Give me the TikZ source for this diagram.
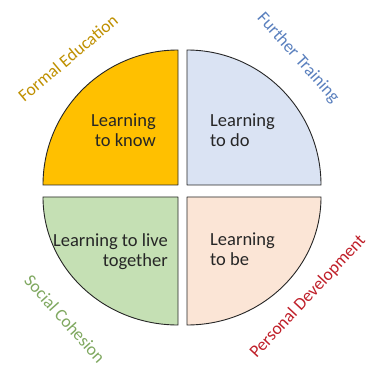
\documentclass[tikz,border=0pt]{standalone}
\usepackage{fontspec}
\setmainfont{Carlito}
\definecolor{qorange}{HTML}{FFC000}
\definecolor{qblue}{HTML}{DAE3F3}
\definecolor{qgreen}{HTML}{C5E0B4}
\definecolor{qpink}{HTML}{FBE5D6}
\definecolor{lformal}{HTML}{BF9000}
\definecolor{lfurther}{HTML}{5A80BE}
\definecolor{lsocial}{HTML}{7FA860}
\definecolor{lpersonal}{HTML}{C0202A}
\definecolor{ink}{HTML}{262626}
\begin{document}
\begin{tikzpicture}[x=1pt,y=1pt,
  quad/.style={draw=ink, line width=0.9pt, line join=round},
  inner/.style={font=\fontsize{18.5}{20}\selectfont, text=ink, inner sep=0pt},
  lab/.style={font=\fontsize{17.5}{20}\selectfont, inner sep=0pt}]
\useasboundingbox (0,0) rectangle (369,367);
\fill[white] (0,0) rectangle (369,367);
% quadrants
\draw[quad, fill=qorange] (178,182) -- (43,182) arc[start angle=180,end angle=90,radius=135] -- cycle;
\draw[quad, fill=qblue] (187,182) -- (187,317) arc[start angle=90,end angle=0,x radius=134,y radius=135] -- cycle;
\draw[quad, fill=qgreen] (178,170) -- (43,170) arc[start angle=180,end angle=270,x radius=135,y radius=128] -- cycle;
\draw[quad, fill=qpink] (187,170) -- (321,170) arc[start angle=0,end angle=-90,x radius=134,y radius=128] -- cycle;
% inner texts (base anchor = last line baseline)
\node[inner, align=right, anchor=base east] (know) at (156,220) {Learning\\to know};
\node[inner, align=left, anchor=base west] (do) at (210,220) {Learning\\to do};
\node[inner, align=right, anchor=base east] (live) at (168,101) {Learning to live\\together};
\node[inner, align=left, anchor=base west] (be) at (210,102) {Learning\\to be};
% outer labels
\node[lab, text=lformal, rotate=40] (formal) at (68,309) {Formal Education};
\node[lab, text=lfurther, rotate=-48] (further) at (298,309) {Further Training};
\node[lab, text=lsocial, rotate=-48] (social) at (65,48) {Social Cohesion};
\node[lab, text=lpersonal, rotate=47] (personal) at (308,70) {Personal Development};
\end{tikzpicture}
\end{document}
